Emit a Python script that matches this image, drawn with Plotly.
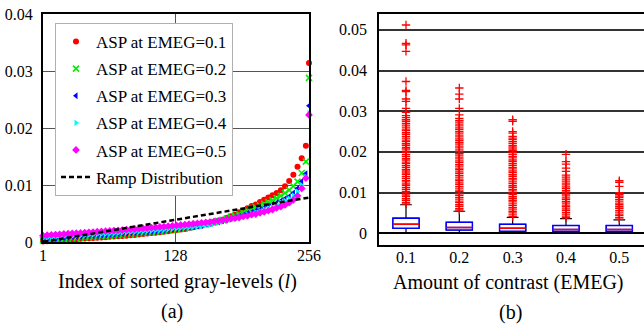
import plotly.graph_objects as go

# ---------------- data: panel (a) ----------------
idx = [1,5,9,13,17,21,25,29,33,37,41,45,49,53,57,61,
       65,69,73,77,81,85,89,93,97,101,105,109,113,117,121,125,
       129,133,137,141,145,149,153,157,161,165,169,173,177,181,185,189,
       193,197,201,205,209,213,217,221,225,229,233,237,241,245,249,253,256]

asp_01 = [0.0001,0.00015,0.0002,0.00025,0.0003,0.00035,0.0004,0.00045,0.0005,0.00055,0.0006,0.00065,0.0007,0.00075,0.0008,0.00085,
          0.0009,0.00095,0.001,0.00105,0.0011,0.00118,0.00125,0.00133,0.0014,0.00148,0.00156,0.00164,0.00172,0.0018,0.0019,0.002,
          0.0021,0.0022,0.0023,0.0025,0.0026,0.0028,0.0029,0.0031,0.0033,0.0035,0.0037,0.0039,0.0042,0.0045,0.0048,0.0052,
          0.0055,0.0059,0.0063,0.0066,0.007,0.0074,0.0078,0.0082,0.0086,0.0091,0.0098,0.0107,0.0118,0.0132,0.0147,0.0169,0.0314]
asp_02 = [0.0003,0.00035,0.0004,0.00045,0.0005,0.00055,0.0006,0.00065,0.0007,0.00075,0.0008,0.00085,0.0009,0.00095,0.001,0.00105,
          0.0011,0.00115,0.0012,0.00126,0.00132,0.00138,0.00144,0.0015,0.00157,0.00164,0.00171,0.00178,0.00186,0.00194,0.00202,0.0021,
          0.0022,0.0023,0.0024,0.0025,0.0027,0.0028,0.003,0.0031,0.0033,0.0035,0.0037,0.0039,0.0041,0.0044,0.0046,0.0049,
          0.0052,0.0055,0.0058,0.0061,0.0064,0.0067,0.007,0.0073,0.0077,0.0081,0.0086,0.0091,0.0098,0.0106,0.0121,0.0141,0.0288]
asp_03 = [0.0005,0.00055,0.0006,0.00065,0.0007,0.00075,0.0008,0.00085,0.0009,0.00095,0.001,0.00105,0.0011,0.00115,0.0012,0.00125,
          0.0013,0.00135,0.0014,0.00145,0.0015,0.00156,0.00162,0.00168,0.00174,0.0018,0.00187,0.00194,0.00201,0.00208,0.00216,0.00224,
          0.00232,0.0024,0.0025,0.0026,0.0027,0.0028,0.0029,0.0031,0.0032,0.0034,0.0035,0.0037,0.0039,0.0041,0.0043,0.0045,
          0.0047,0.005,0.0052,0.0055,0.0057,0.006,0.0063,0.0066,0.0069,0.0072,0.0076,0.008,0.0086,0.0094,0.0106,0.012,0.0239]
asp_04 = [0.0007,0.00075,0.0008,0.00085,0.0009,0.00095,0.001,0.00105,0.0011,0.00115,0.0012,0.00125,0.0013,0.00135,0.0014,0.00145,
          0.0015,0.00155,0.0016,0.00165,0.0017,0.00175,0.0018,0.00185,0.0019,0.00196,0.00202,0.00208,0.00214,0.0022,0.00227,0.00234,
          0.00241,0.00248,0.00256,0.00264,0.0027,0.0028,0.0029,0.003,0.0031,0.0033,0.0034,0.0036,0.0037,0.0039,0.0041,0.0043,
          0.0045,0.0047,0.0049,0.0052,0.0054,0.0057,0.006,0.0063,0.0066,0.0069,0.0072,0.0076,0.0081,0.0088,0.0099,0.0114,0.0226]
asp_05 = [0.0011,0.0012,0.00125,0.0013,0.00135,0.0014,0.00145,0.0015,0.00155,0.0016,0.00165,0.0017,0.00175,0.0018,0.00185,0.0019,
          0.00195,0.002,0.00205,0.0021,0.00216,0.00222,0.00228,0.00234,0.0024,0.00246,0.00252,0.00258,0.00264,0.0027,0.00277,0.00284,
          0.00291,0.00298,0.00305,0.00312,0.0032,0.00328,0.00336,0.00344,0.0035,0.0036,0.0037,0.0038,0.0039,0.0041,0.0042,0.0043,
          0.0045,0.0046,0.0048,0.0049,0.0051,0.0053,0.0055,0.0057,0.006,0.0062,0.0065,0.0069,0.0074,0.0081,0.0094,0.0112,0.0223]

ramp_idx = [1, 64, 128, 192, 256]
ramp_val = [0.00003, 0.00195, 0.0039, 0.00585, 0.0078]

series_names = ["ASP at EMEG=0.1", "ASP at EMEG=0.2", "ASP at EMEG=0.3",
                "ASP at EMEG=0.4", "ASP at EMEG=0.5"]
a_xticks = [1, 128, 256]
a_yticks = [0, 0.01, 0.02, 0.03, 0.04]
a_yticktext = ["0", "0.01", "0.02", "0.03", "0.04"]

# ---------------- data: panel (b) ----------------
emeg = [0.1, 0.2, 0.3, 0.4, 0.5]
emeg_text = ["0.1", "0.2", "0.3", "0.4", "0.5"]
q1 = [0.0012, 0.0008, 0.0005, 0.0004, 0.0004]
med = [0.0022, 0.0014, 0.0012, 0.0009, 0.0009]
q3 = [0.0037, 0.0027, 0.0022, 0.0019, 0.0019]
lowf = [0.0, 0.0, 0.0, 0.0, 0.0]
upf = [0.0070, 0.0054, 0.0039, 0.0036, 0.0033]

out_01 = [0.0072,0.0076,0.0081,0.0085,0.0090,0.0094,0.0099,0.0103,0.0108,0.0112,0.0117,0.0121,0.0126,0.0130,0.0135,
          0.0139,0.0144,0.0148,0.0153,0.0157,0.0162,0.0166,0.0171,0.0175,0.0180,0.0184,0.0189,0.0193,0.0198,0.0202,
          0.0207,0.0211,0.0216,0.0220,0.0225,0.0229,0.0234,0.0238,0.0243,0.0247,0.0252,0.0256,0.0261,0.0266,0.0270,
          0.0275,0.0279,0.0284,0.0289,0.0297,0.0307,0.0324,0.0330,0.0348,0.0351,0.0373,0.0447,0.0463,0.0467,0.0512]
out_02 = [0.0057,0.0061,0.0066,0.0070,0.0075,0.0079,0.0084,0.0088,0.0093,0.0097,0.0102,0.0106,0.0111,0.0115,0.0120,
          0.0124,0.0129,0.0133,0.0138,0.0142,0.0147,0.0151,0.0156,0.0160,0.0165,0.0169,0.0174,0.0178,0.0183,0.0187,
          0.0192,0.0196,0.0201,0.0205,0.0210,0.0214,0.0219,0.0223,0.0228,0.0232,0.0237,0.0241,0.0246,0.0250,0.0255,
          0.0259,0.0264,0.0268,0.0273,0.0277,0.0282,0.0291,0.0307,0.0330,0.0342,0.0357]
out_03 = [0.0041,0.0045,0.0050,0.0054,0.0059,0.0063,0.0068,0.0072,0.0077,0.0081,0.0086,0.0090,0.0095,0.0099,0.0104,
          0.0108,0.0113,0.0117,0.0122,0.0126,0.0131,0.0135,0.0140,0.0144,0.0149,0.0153,0.0158,0.0162,0.0167,0.0171,
          0.0176,0.0180,0.0185,0.0189,0.0194,0.0198,0.0203,0.0207,0.0212,0.0216,0.0221,0.0225,0.0230,0.0234,0.0238,
          0.0246,0.0250,0.0275,0.0279]
out_04 = [0.0038,0.0042,0.0047,0.0051,0.0056,0.0060,0.0065,0.0069,0.0074,0.0078,0.0083,0.0087,0.0092,0.0096,0.0101,
          0.0105,0.0110,0.0114,0.0119,0.0123,0.0128,0.0133,0.0138,0.0143,0.0152,0.0160,0.0170,0.0176,0.0194]
out_05 = [0.0034,0.0038,0.0043,0.0047,0.0052,0.0056,0.0061,0.0065,0.0070,0.0074,0.0079,0.0083,0.0088,0.0091,
          0.0095,0.0100,0.0115,0.0125,0.0129]
outliers = [out_01, out_02, out_03, out_04, out_05]
b_yticks = [0, 0.01, 0.02, 0.03, 0.04, 0.05]
b_yticktext = ["0", "0.01", "0.02", "0.03", "0.04", "0.05"]

# ---------------- figure ----------------
FONT = "Liberation Serif, Times New Roman, serif"
W, H = 644, 324
fig = go.Figure()

styles = [
    dict(symbol="circle", color="#ff0000", size=6),
    dict(symbol="x-thin", color="#00ee00", size=6, line=dict(width=1.6, color="#00ee00")),
    dict(symbol="triangle-left", color="#0000ff", size=6),
    dict(symbol="triangle-right", color="#00ffff", size=6),
    dict(symbol="diamond", color="#ff00ff", size=6),
]
for i, (name, vals) in enumerate(zip(series_names, [asp_01, asp_02, asp_03, asp_04, asp_05])):
    fig.add_trace(go.Scatter(x=idx, y=vals, mode="markers", name=name,
                             marker=styles[i], cliponaxis=False,
                             legendgroup=f"g{i}", xaxis="x", yaxis="y"))
fig.add_trace(go.Scatter(x=ramp_idx, y=ramp_val, mode="lines", name="Ramp Distribution",
                         line=dict(color="black", width=2.5, dash="5px,3px"),
                         legendgroup="g5", xaxis="x", yaxis="y"))

# panel (b) boxes: black whiskers, blue boxes, red medians
box_w = 0.049
fig.add_trace(go.Box(x=emeg, q1=q1, median=med, q3=q3, lowerfence=lowf, upperfence=upf,
                     width=box_w, whiskerwidth=0.45, line=dict(color="black", width=1.2),
                     fillcolor="rgba(255,255,255,0)", showlegend=False, boxpoints=False,
                     xaxis="x2", yaxis="y2"))
fig.add_trace(go.Box(x=emeg, q1=q1, median=med, q3=q3, lowerfence=q1, upperfence=q3,
                     width=box_w, whiskerwidth=0, line=dict(color="#0000ff", width=1.5),
                     fillcolor="white", showlegend=False, boxpoints=False,
                     xaxis="x2", yaxis="y2"))
fig.add_trace(go.Box(x=emeg, q1=med, median=med, q3=med, lowerfence=med, upperfence=med,
                     width=box_w, whiskerwidth=0, line=dict(color="#ff0000", width=1.5),
                     fillcolor="rgba(0,0,0,0)", showlegend=False, boxpoints=False,
                     xaxis="x2", yaxis="y2"))
ox, oy = [], []
for e, vals in zip(emeg, outliers):
    ox += [e] * len(vals)
    oy += vals
fig.add_trace(go.Scatter(x=ox, y=oy, mode="markers", showlegend=False,
                         marker=dict(symbol="cross-thin", size=6, color="#ff0000",
                                     line=dict(width=1.3, color="#ff0000")),
                         xaxis="x2", yaxis="y2"))

def tf():
    return dict(family=FONT, size=16, color="black")

fig.update_layout(
    width=W, height=H, margin=dict(l=0, r=0, t=0, b=0, autoexpand=False),
    paper_bgcolor="white", plot_bgcolor="white",
    boxmode="overlay",
    font=dict(family=FONT, color="black"),
    xaxis=dict(domain=[43/W, 309/W], range=[1, 256], tickvals=a_xticks, automargin=False,
               showgrid=True, gridcolor="#555", gridwidth=1.2, zeroline=False,
               showline=True, linecolor="black", linewidth=2, mirror=True,
               ticks="", tickfont=tf(), ticklabelstandoff=-2, anchor="y"),
    yaxis=dict(domain=[(H-242)/H, (H-14)/H], range=[0, 0.04], tickvals=a_yticks, automargin=False,
               ticktext=a_yticktext, showgrid=True, gridcolor="#555", gridwidth=1.2,
               zeroline=False, showline=True, linecolor="black", linewidth=2, mirror=True,
               ticks="", tickfont=tf(), ticklabelstandoff=5, anchor="x"),
    xaxis2=dict(domain=[379/W, 1.0], range=[0.0494, 0.5463], tickvals=emeg, automargin=False,
                ticktext=emeg_text, showgrid=False, zeroline=False,
                showline=True, linecolor="black", linewidth=1.5, mirror=True,
                ticks="", tickfont=tf(), ticklabelstandoff=-3, anchor="y2"),
    yaxis2=dict(domain=[(H-245)/H, (H-14)/H], range=[-0.0029, 0.0539], tickvals=b_yticks, automargin=False,
                ticktext=b_yticktext, showgrid=True, gridcolor="#333", gridwidth=1.5,
                zeroline=True, zerolinecolor="black", zerolinewidth=1.5,
                showline=True, linecolor="black", linewidth=1.5, mirror=True,
                ticks="", tickfont=tf(), ticklabelstandoff=7, anchor="x2"),
    legend=dict(x=55/W, y=(H-23)/H, xanchor="left", yanchor="top",
                bgcolor="white", bordercolor="#b0b0b0", borderwidth=1,
                font=dict(family=FONT, size=17, color="black"),
                tracegroupgap=2, itemwidth=30),
    showlegend=True,
)

ann = [
    dict(text="Index of sorted gray-levels (<i>l</i>)", x=177/W, y=(H-281)/H, size=20),
    dict(text="Amount of contrast (EMEG)", x=508/W, y=(H-282)/H, size=20),
    dict(text="(a)", x=172/W, y=(H-311)/H, size=20),
    dict(text="(b)", x=510/W, y=(H-312)/H, size=20),
]
for a in ann:
    fig.add_annotation(text=a["text"], x=a["x"], y=a["y"], xref="paper", yref="paper",
                       xanchor="center", yanchor="middle", showarrow=False,
                       font=dict(family=FONT, size=a["size"], color="black"))

fig.write_html("out.html", config={"displayModeBar": False},
               post_script="document.body.style.margin='0px';document.body.style.overflow='hidden';")
